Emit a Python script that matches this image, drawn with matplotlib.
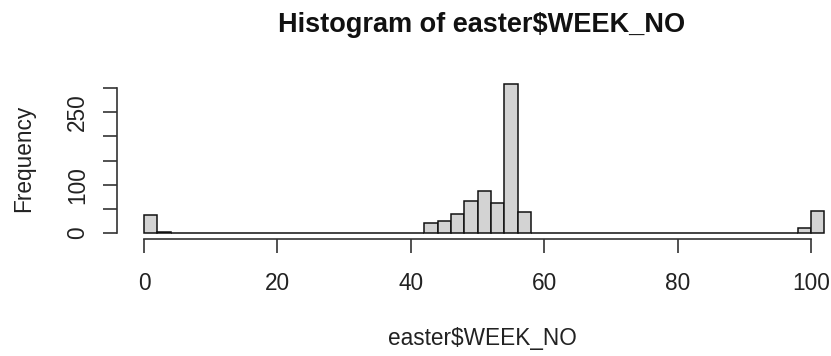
import matplotlib
matplotlib.use("Agg")
import matplotlib.pyplot as plt

plt.rcParams["font.family"] = ["Liberation Sans", "DejaVu Sans"]

# histogram of easter$WEEK_NO, breaks every 2 weeks
breaks = list(range(0, 104, 2))
counts = [37, 2] + [0] * 19 + [20, 25, 39, 67, 87, 62, 308, 43] + [0] * 20 + [11, 46]

yticks = [0, 50, 100, 150, 200, 250, 300]
ylabels = ["0", "", "100", "", "", "250", ""]
xticks = [0, 20, 40, 60, 80, 100]

W, H = 831, 356
fig = plt.figure(figsize=(W / 100, H / 100), dpi=100)

# plot region in pixels (R style: 4% extension of ranges)
left, right, top, bottom = 116.8, 851.6, 78.2, 239.0
ax = fig.add_axes([left / W, 1 - bottom / H, (right - left) / W, (bottom - top) / H])

ax.bar(breaks[:-1], counts, width=2, align="edge", color="#D3D3D3",
       edgecolor="#111111", linewidth=1.1)

ax.set_xlim(-4.08, 106.08)
ax.set_ylim(-12.32, 320.32)

for s in ["top", "right"]:
    ax.spines[s].set_visible(False)
ax.spines["left"].set_bounds(0, 300)
ax.spines["bottom"].set_bounds(0, 100)
for s in ["left", "bottom"]:
    ax.spines[s].set_linewidth(1.2)
    ax.spines[s].set_color("#333333")

ax.set_xticks(xticks)
ax.set_xticklabels([str(t) for t in xticks])
ax.set_yticks(yticks)
ax.set_yticklabels(ylabels, rotation=90, va="center")
ax.tick_params(axis="both", direction="out", length=10, width=1.2, color="#333333",
               labelsize=16.3, labelcolor="#222222")
ax.tick_params(axis="x", pad=14)
ax.tick_params(axis="y", pad=10)

fig.text(482 / W, 1 - 32 / H, "Histogram of easter$WEEK_NO", ha="center", va="baseline",
         fontsize=19.5, fontweight="bold", color="#111111")
fig.text(482 / W, 1 - 345 / H, "easter$WEEK_NO", ha="center", va="baseline",
         fontsize=16.3, color="#222222")
fig.text(30 / W, 1 - 158 / H, "Frequency", ha="center", va="baseline", rotation=90,
         rotation_mode="anchor", fontsize=16.3, color="#222222")

fig.savefig("out.png", dpi=100)
